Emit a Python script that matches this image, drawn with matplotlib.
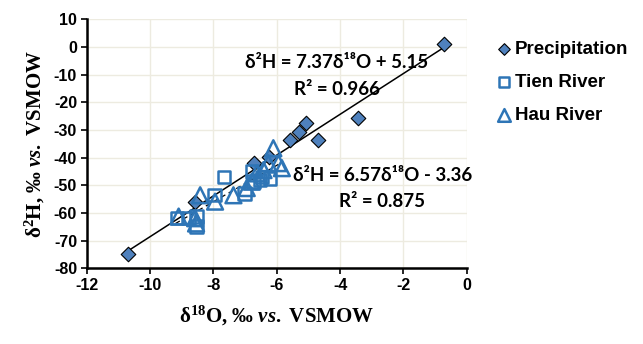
import matplotlib
matplotlib.use("Agg")
import matplotlib.pyplot as plt
import numpy as np

plt.rcParams['font.family'] = 'Liberation Sans'
plt.rcParams['font.weight'] = 'bold'
plt.rcParams['mathtext.fontset'] = 'custom'
plt.rcParams['mathtext.rm'] = 'Liberation Serif:bold'
plt.rcParams['mathtext.it'] = 'Liberation Serif:italic:bold'
plt.rcParams['mathtext.bf'] = 'Liberation Serif:bold'
plt.rcParams['axes.unicode_minus'] = False

# precipitation (diamonds)
prec_x = [-0.72, -3.44, -5.08, -5.30, -5.58, -4.71, -6.25, -6.71, -8.58, -10.7]
prec_y = [1.1, -25.8, -27.6, -30.6, -33.6, -33.6, -39.6, -41.8, -56.0, -74.9]

# Tien River (squares)
tien_x = [-7.66, -7.97, -7.02, -9.16, -8.79, -8.53, -8.53, -6.79, -6.53, -6.21, -6.74, -6.47]
tien_y = [-46.9, -53.6, -52.9, -61.9, -61.9, -61.3, -64.9, -45.0, -48.0, -47.5, -48.7, -47.0]

# Hau River (triangles)
hau_x = [-6.11, -5.84, -5.95, -6.27, -6.42, -6.63, -6.79, -6.95, -7.37, -7.95, -8.42, -8.58, -8.55, -9.10]
hau_y = [-36.6, -43.8, -42.0, -42.0, -44.5, -45.7, -48.7, -51.0, -53.6, -55.9, -53.6, -61.9, -63.8, -61.3]

xticks = [-12, -10, -8, -6, -4, -2, 0]
yticks = [-80, -70, -60, -50, -40, -30, -20, -10, 0, 10]

fill_c = '#4F81BD'
edge_c = '#2E75B6'

fig = plt.figure(figsize=(6.43, 3.44), dpi=100)
ax = fig.add_axes([0.135, 0.22, 0.591, 0.724])

ax.grid(True, color='#EDEBE0', linewidth=1.0, zorder=0)
ax.set_axisbelow(True)

# trend lines
xl = np.array([min(prec_x), max(prec_x)])
ax.plot(xl, 7.37 * xl + 5.15, color='black', linewidth=1.1, zorder=2)
rx = np.array([-9.2, -5.8])
ax.plot(rx, 6.57 * rx - 3.36, color='black', linewidth=0.9, linestyle=(0, (4, 3)), zorder=2)

ax.scatter(prec_x, prec_y, marker='D', s=55, facecolor=fill_c, edgecolor='black', linewidth=0.8,
           zorder=3, label='Precipitation')
ax.scatter(tien_x, tien_y, marker='s', s=80, facecolor='none', edgecolor=edge_c, linewidth=1.8,
           zorder=3, label='Tien River')
ax.scatter(hau_x, hau_y, marker='^', s=130, facecolor='none', edgecolor=edge_c, linewidth=1.8,
           zorder=3, label='Hau River')

eq_font = dict(family=['Lato', 'DejaVu Sans'], fontweight='bold', fontsize=13.5, ha='center', va='center')
ax.text(-4.1, -5.8, 'δ²H = 7.37δ¹⁸O + 5.15', **eq_font)
ax.text(-4.1, -15.5, 'R² = 0.966', **eq_font)
ax.text(-2.67, -46.3, 'δ²H = 6.57δ¹⁸O - 3.36', clip_on=False, **eq_font)
ax.text(-2.67, -55.9, 'R² = 0.875', **eq_font)

ax.set_xlim(-12, 0)
ax.set_ylim(-80, 10)
ax.set_xticks(xticks)
ax.set_xticklabels([str(t) for t in xticks], fontweight='bold', fontsize=11.5)
ax.set_yticks(yticks)
ax.set_yticklabels([str(t) for t in yticks], fontweight='bold', fontsize=11.5)
ax.tick_params(direction='out', length=4, width=1.2, pad=3)

for s in ['top', 'right']:
    ax.spines[s].set_visible(False)
for s in ['left', 'bottom']:
    ax.spines[s].set_linewidth(1.8)

ax.set_xlabel(r'$\mathrm{\delta^{18}}$O, ‰ $\mathit{vs.}$ VSMOW', fontfamily='Liberation Serif',
              fontweight='bold', fontsize=15, labelpad=8)
ax.set_ylabel(r'$\mathrm{\delta^{2}}$H, ‰ $\mathit{vs.}$ VSMOW', fontfamily='Liberation Serif',
              fontweight='bold', fontsize=15, labelpad=5)

leg = ax.legend(loc='upper left', bbox_to_anchor=(1.03, 0.98), frameon=False,
                prop=dict(family='Liberation Sans', weight='bold', size=13.5),
                handletextpad=0.05, labelspacing=0.85, markerscale=0.8, handlelength=1.0)

fig.savefig('out.png', dpi=100)
